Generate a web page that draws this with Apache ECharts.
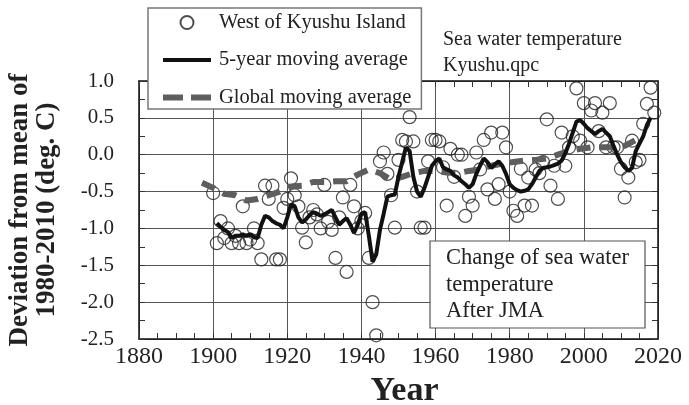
<!DOCTYPE html>
<html><head><meta charset="utf-8">
<script src="https://cdn.jsdelivr.net/npm/echarts@6/dist/echarts.min.js"></script>
<style>html,body{margin:0;padding:0;background:#fff}#c{width:689px;height:405px}</style>
</head><body><div id="c"></div>
<script>
// Observed annual anomalies, West of Kyushu Island
const obsYears = [];
for (let y = 1900; y <= 2019; y++) obsYears.push(y);
const obsVals = [
 -0.52,-1.20,-0.90,-1.13,-1.00,-1.20,-1.10,-1.20,-0.70,-1.20,
 -1.15,-1.00,-1.20,-1.42,-0.42,-0.60,-0.42,-1.42,-1.42,-0.72,
 -0.60,-0.32,-0.55,-0.70,-0.99,-1.19,-0.85,-0.75,-0.81,-1.00,
 -0.41,-0.91,-1.02,-1.40,-0.85,-0.58,-1.59,-0.41,-0.70,-1.00,
 -0.90,-0.79,-1.40,-2.00,-2.45,-0.09,0.03,-0.26,-0.55,-0.99,
 -0.07,0.20,0.18,0.51,0.18,-0.50,-0.99,-0.99,-0.09,0.20,
 0.20,0.18,-0.17,-0.69,0.08,-0.30,0.00,0.00,-0.83,-0.57,
 -0.69,0.03,-0.20,0.20,-0.47,0.30,-0.60,-0.40,0.30,0.10,
 -0.50,-0.76,-0.83,-0.19,-0.69,-0.31,-0.69,-0.20,-0.25,-0.10,
 0.48,-0.42,-0.15,-0.60,0.30,-0.15,0.10,0.25,0.90,0.19,
 0.70,0.10,0.60,0.70,0.32,0.57,0.10,0.70,0.10,0.10,
 -0.19,-0.58,-0.31,0.19,-0.10,-0.07,0.42,0.69,0.91,0.57
];
// 5-year moving average
const maYears = [];
for (let y = 1901; y <= 2018; y++) maYears.push(y);
const maVals = [
 -0.93,-0.98,-1.02,-1.05,-1.13,-1.10,-1.10,-1.08,-1.10,-1.08,
 -1.12,-1.13,-0.95,-0.83,-0.85,-0.90,-0.93,-0.95,-1.00,-0.85,
 -0.67,-0.70,-0.85,-0.92,-0.88,-0.82,-0.78,-0.80,-0.83,-0.81,
 -0.78,-0.75,-0.85,-0.95,-0.90,-0.86,-0.95,-1.06,-0.95,-0.80,
 -0.78,-1.10,-1.45,-1.35,-1.02,-0.80,-0.57,-0.55,-0.54,-0.30,
 -0.10,0.10,0.05,-0.30,-0.50,-0.57,-0.45,-0.30,-0.15,-0.09,
 -0.05,-0.17,-0.20,-0.22,-0.28,-0.31,-0.36,-0.40,-0.45,-0.40,
 -0.26,-0.15,-0.05,-0.10,-0.18,-0.13,-0.09,-0.15,-0.26,-0.40,
 -0.45,-0.48,-0.50,-0.49,-0.47,-0.40,-0.31,-0.22,-0.18,-0.17,
 -0.16,-0.14,-0.12,-0.08,0.02,0.15,0.30,0.45,0.47,0.42,
 0.36,0.32,0.28,0.32,0.35,0.30,0.25,0.12,0.00,-0.10,
 -0.17,-0.22,-0.18,0.05,0.15,0.25,0.40,0.50
];
// Global moving average
const glYears = [1897,1900,1903,1906,1909,1912,1915,1918,1921,1924,1927,1930,1933,1936,1939,1942,1945,1948,1951,1954,1957,1960,1963,1966,1969,1972,1975,1978,1981,1984,1987,1990,1993,1996,1999,2002,2005,2008,2011,2014];
const glVals = [-0.38,-0.45,-0.53,-0.55,-0.62,-0.60,-0.55,-0.50,-0.43,-0.42,-0.37,-0.37,-0.36,-0.36,-0.27,-0.20,-0.25,-0.34,-0.30,-0.25,-0.22,-0.22,-0.24,-0.25,-0.22,-0.20,-0.15,-0.12,-0.10,-0.08,-0.07,-0.05,0.00,0.05,0.08,0.10,0.10,0.10,0.12,0.20];

const seriesNames = ['West of Kyushu Island','5-year moving average','Global moving average'];
const yTitle = 'Deviation from mean of\n1980-2010 (deg. C)';
const xTitle = 'Year';
const note1 = ['Sea water temperature','Kyushu.qpc'];
const note2 = ['Change of sea water','temperature','After JMA'];

const FONT = '"Liberation Serif","Times New Roman",serif';
const zip = (a,b) => a.map((v,i)=>[v,b[i]]);

const chart = echarts.init(document.getElementById('c'));
const frame = {show:true,onZero:false,lineStyle:{color:'#111',width:1.5}};
const tick = {show:true,inside:true,length:6,lineStyle:{color:'#333'}};
chart.setOption({
  animation:false,
  grid:{left:139,right:31,top:81,bottom:66,show:false,containLabel:false,outerBoundsMode:'none'},
  xAxis:[
    {type:'value',min:1880,max:2020,interval:20,position:'bottom',
      name:xTitle,nameLocation:'middle',nameGap:31,
      nameTextStyle:{fontFamily:FONT,fontWeight:'bold',fontSize:34,color:'#222',padding:[0,0,0,12]},
      axisLabel:{fontFamily:FONT,fontSize:24,color:'#222',margin:6,formatter:v=>String(v)},
      axisLine:frame, axisTick:tick,
      splitLine:{show:true,lineStyle:{color:'#555',width:1}},
      minorTick:{show:true,splitNumber:4,length:6,lineStyle:{color:'#333'}}},
    {type:'value',min:1880,max:2020,interval:20,position:'top',
      axisLine:frame, axisTick:tick,
      minorTick:{show:true,splitNumber:4,length:6,lineStyle:{color:'#333'}},
      axisLabel:{show:false},splitLine:{show:false}}
  ],
  yAxis:[
    {type:'value',min:-2.5,max:1.0,interval:0.5,position:'left',
      name:yTitle,nameLocation:'middle',nameRotate:90,nameGap:78,
      nameTextStyle:{fontFamily:FONT,fontWeight:'bold',fontSize:27,color:'#222',lineHeight:27},
      axisLabel:{fontFamily:FONT,fontSize:21,color:'#222',margin:25,formatter:v=>v.toFixed(1)},
      axisLine:frame, axisTick:tick,
      minorTick:{show:true,splitNumber:2,length:6,lineStyle:{color:'#333'}},
      splitLine:{show:true,lineStyle:{color:'#555',width:1}}},
    {type:'value',min:-2.5,max:1.0,interval:0.5,position:'right',
      axisLine:frame, axisTick:tick,
      minorTick:{show:true,splitNumber:2,length:6,lineStyle:{color:'#333'}},
      axisLabel:{show:false},splitLine:{show:false}}
  ],
  legend:{
    left:148,top:8,orient:'vertical',itemWidth:48,itemHeight:13,itemGap:16.5,
    padding:[4,10,1,12],backgroundColor:'#fff',borderColor:'#777',borderWidth:1.5,
    textStyle:{fontFamily:FONT,fontSize:20.5,color:'#222',padding:[0,0,0,3]},
    data:[
      {name:seriesNames[0]},
      {name:seriesNames[1],itemStyle:{opacity:0},lineStyle:{width:4,color:'#111'}},
      {name:seriesNames[2],itemStyle:{opacity:0},lineStyle:{width:6,color:'#5e5e5e',type:[20,8]}}
    ]
  },
  series:[
    {name:seriesNames[0],type:'scatter',data:zip(obsYears,obsVals),symbol:'circle',symbolSize:13,
      itemStyle:{color:'rgba(255,255,255,0)',borderColor:'#222',borderWidth:1.2},z:3},
    {name:seriesNames[2],type:'line',data:zip(glYears,glVals),showSymbol:false,symbol:'none',
      lineStyle:{color:'#5e5e5e',width:6,type:[14,9]},itemStyle:{color:'#5e5e5e'},z:4},
    {name:seriesNames[1],type:'line',data:zip(maYears,maVals),showSymbol:false,symbol:'none',
      lineStyle:{color:'#111',width:4},itemStyle:{color:'#111'},z:5}
  ],
  graphic:[
    {type:'text',left:443,top:27,style:{text:note1.join('\n'),font:'20px '+FONT,fill:'#222',lineHeight:26}},
    {type:'rect',shape:{x:430,y:241,width:215,height:87},style:{fill:'#fff',stroke:'#555',lineWidth:1.2},z:10},
    {type:'text',left:446,top:245,style:{text:note2.join('\n'),font:'22.5px '+FONT,fill:'#222',lineHeight:26.5},z:11}
  ]
});
</script></body></html>
